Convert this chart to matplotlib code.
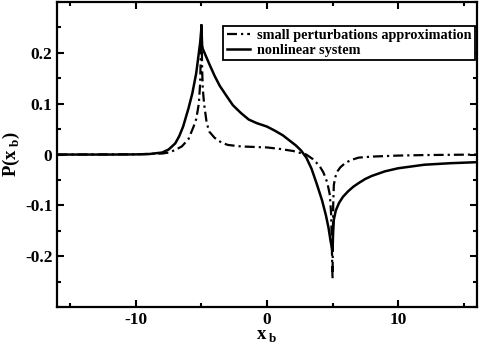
import matplotlib
matplotlib.use("Agg")
import matplotlib.pyplot as plt
from matplotlib.ticker import MultipleLocator

plt.rcParams['font.family'] = ['Liberation Serif', 'DejaVu Serif']
plt.rcParams['font.weight'] = 'bold'
plt.rcParams['mathtext.fontset'] = 'custom'
plt.rcParams['mathtext.rm'] = 'Liberation Serif:bold'
plt.rcParams['mathtext.bf'] = 'Liberation Serif:bold'
plt.rcParams['axes.unicode_minus'] = False

# small perturbations approximation (dash-dot)
x_small = [-16, -10, -8, -7.5, -7, -6.5, -6, -5.6, -5.4, -5.2, -5.1, -5.0, -4.95, -4.9, -4.8,
           -4.6, -4.4, -4.0, -3.5, -3, -2, -1, 0, 1, 2, 3, 3.5, 4, 4.3, 4.6, 4.8, 4.9,
           5.0, 5.05, 5.1, 5.2, 5.4, 5.6, 6, 6.5, 7, 8, 10, 12, 16]
p_small = [0, 0.0005, 0.002, 0.004, 0.009, 0.016, 0.03, 0.055, 0.07, 0.1, 0.14, 0.26, 0.17, 0.13, 0.1,
           0.062, 0.045, 0.033, 0.024, 0.019, 0.016, 0.015, 0.014, 0.011, 0.007, 0.0, -0.009,
           -0.022, -0.035, -0.055, -0.08, -0.12,
           -0.245, -0.1, -0.06, -0.045, -0.032, -0.025, -0.016, -0.01, -0.006, -0.004, -0.002,
           -0.001, 0]

# nonlinear system (solid)
x_nonlin = [-16, -12, -10, -9, -8, -7.5, -7, -6.7, -6.4, -6, -5.7, -5.4, -5.2, -5.1, -5.0,
            -4.95, -4.9, -4.7, -4.4, -4, -3.6, -3, -2.6, -2, -1.4, -0.8, 0, 0.6, 1.2, 1.8,
            2.2, 2.6, 3.0, 3.4, 3.8, 4.2, 4.5, 4.7, 4.85, 5.0, 5.05, 5.1, 5.25, 5.5, 5.8, 6.2,
            6.6, 7, 7.5, 8, 9, 10, 12, 14, 16]
p_nonlin = [0, 0, 0.0003, 0.001, 0.004, 0.01, 0.022, 0.036, 0.055, 0.09, 0.12, 0.16, 0.2,
            0.22, 0.25, 0.215, 0.208, 0.196, 0.178, 0.155, 0.135, 0.112, 0.097, 0.082, 0.069,
            0.062, 0.055, 0.047, 0.038, 0.026, 0.018, 0.008, -0.006, -0.028, -0.058, -0.09,
            -0.12, -0.145, -0.17, -0.19, -0.15, -0.128, -0.11, -0.095, -0.083, -0.072,
            -0.063, -0.056, -0.048, -0.042, -0.033, -0.027, -0.02, -0.017, -0.015]

xticks = [-10, 0, 10]
yticks = [-0.2, -0.1, 0, 0.1, 0.2]
ytick_labels = ['-0.2', '-0.1', '0', '0.1', '0.2']

fig = plt.figure(figsize=(4.79, 3.45), dpi=100)
ax = fig.add_axes([0.1196, 0.110, 0.8756, 0.884])

ax.plot(x_small, p_small, color='black', lw=1.6, linestyle=(0, (4.5, 1.8, 1.0, 1.8)),
        label='small perturbations approximation')
ax.plot(x_nonlin, p_nonlin, color='black', lw=1.8, label='nonlinear system')

ax.set_xlim(-16, 16)
ax.set_ylim(-0.3, 0.3)
ax.set_xticks(xticks)
ax.set_xticklabels([str(t) for t in xticks])
ax.set_yticks(yticks)
ax.set_yticklabels(ytick_labels)
ax.xaxis.set_minor_locator(MultipleLocator(5))
ax.yaxis.set_minor_locator(MultipleLocator(0.05))
ax.tick_params(which='both', direction='in', top=True, right=True, width=1.5,
               labelsize=12.5)
ax.tick_params(which='major', length=5)
ax.tick_params(which='minor', length=3)
for s in ax.spines.values():
    s.set_linewidth(1.6)

ax.set_xlabel(r'x$\,_{\mathrm{b}}$', fontsize=13.5, fontweight='bold', labelpad=0)
ax.set_ylabel(r'P(x$\,_{\mathrm{b}}$)', fontsize=13.5, fontweight='bold', labelpad=2)

leg = ax.legend(loc='upper right', bbox_to_anchor=(0.996, 0.922), fancybox=False,
                edgecolor='black', framealpha=1, fontsize=10.3, handlelength=1.6,
                borderpad=0.25, labelspacing=0.1, handletextpad=0.5, borderaxespad=0)
leg.get_frame().set_linewidth(1.3)

fig.savefig('out.png', dpi=100)
